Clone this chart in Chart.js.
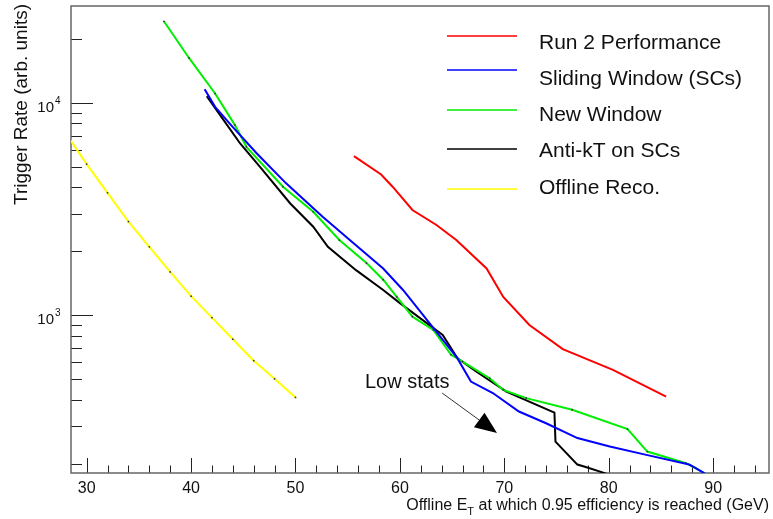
<!DOCTYPE html>
<html>
<head>
<meta charset="utf-8">
<script src="https://cdn.jsdelivr.net/npm/chart.js@4.4.1/dist/chart.umd.min.js"></script>
<style>
  html, body { margin: 0; padding: 0; background: #fff; }
  #wrap { width: 773px; height: 519px; }
</style>
</head>
<body>
<div id="wrap"><canvas id="c" width="773" height="519"></canvas></div>
<script>
// Offline ET (GeV) at which 95% efficiency is reached, and trigger rate (arb. units)
const run2Et   = [55.6, 58.2, 59.3, 61.2, 63.5, 65.4, 68.3, 69.9, 72.4, 75.6, 80.4, 85.5];
const run2Rate = [5610, 4600, 4030, 3130, 2660, 2260, 1660, 1220, 900, 692, 553, 414];

const slidingEt   = [41.3, 42.3, 44.0, 46.3, 49.1, 52.6, 55.2, 58.4, 60.3, 65.5, 66.8, 68.9, 71.4, 74.0, 77.0, 80.1, 83.6, 87.7, 88.3, 89.5];
const slidingRate = [11590, 9580, 7690, 5780, 4180, 2910, 2260, 1660, 1315, 628, 487, 430, 352, 310, 264, 241, 220, 198, 191, 176];

const newWinEt   = [37.4, 39.8, 42.3, 44.2, 45.3, 48.8, 51.7, 54.2, 56.8, 58.4, 59.7, 61.2, 63.2, 64.9, 66.0, 68.6, 69.9, 72.1, 76.5, 81.8, 83.7, 87.4, 89.6];
const newWinRate = [24230, 16280, 11070, 7860, 6210, 4030, 3070, 2260, 1760, 1470, 1220, 985, 853, 651, 605, 505, 445, 407, 359, 291, 228, 201, 176];

const antiKtEt   = [41.5, 42.9, 44.7, 46.6, 49.5, 51.7, 53.1, 55.8, 58.4, 60.0, 64.1, 65.5, 67.3, 70.2, 74.8, 74.9, 77.0, 77.8, 79.4, 80.2];
const antiKtRate = [10750, 8590, 6440, 5000, 3360, 2610, 2100, 1630, 1315, 1140, 808, 628, 543, 437, 348, 254, 198, 193, 182, 176];

const offlineEt   = [28, 30, 32, 34, 36, 38, 40, 42, 44, 46, 48, 50];
const offlineRate = [7190, 5150, 3770, 2760, 2100, 1600, 1230, 974, 771, 611, 502, 410];

const seriesNames = ['Run 2 Performance', 'Sliding Window (SCs)', 'New Window', 'Anti-kT on SCs', 'Offline Reco.'];
const seriesColors = ['#ff0000', '#0000ff', '#00ee00', '#000000', '#ffff00'];

const xTickValues = [30, 40, 50, 60, 70, 80, 90];
const yTickExponents = [3, 4];

// "Low stats" annotation: arrow from (64.05, 430) to (69.3, 279)
const noteText = 'Low stats';
const noteArrowFrom = [64.05, 430];
const noteArrowTo = [69.3, 279];

const FONT = '"Liberation Sans", Arial, Helvetica, sans-serif';

function pts(xs, ys) { return xs.map((v, i) => ({ x: v, y: ys[i] })); }

const allSeries = [
  pts(run2Et, run2Rate),
  pts(slidingEt, slidingRate),
  pts(newWinEt, newWinRate),
  pts(antiKtEt, antiKtRate),
  pts(offlineEt, offlineRate)
];

const datasets = allSeries.map((data, i) => ({
  label: seriesNames[i],
  data,
  borderColor: seriesColors[i],
  backgroundColor: seriesColors[i],
  borderWidth: 2,
  pointRadius: (i === 4 || i === 2) ? 0.9 : 0,
  pointBackgroundColor: '#333',
  pointBorderWidth: 0,
  tension: 0,
  fill: false
}));

const rootAxes = {
  id: 'rootAxes',
  beforeDatasetsDraw(chart) {
    const { ctx, chartArea: a, scales: { x, y } } = chart;
    ctx.save();
    // x ticks (major every 10, minor every 2), drawn inside the frame
    ctx.strokeStyle = '#222';
    ctx.lineWidth = 1;
    ctx.beginPath();
    for (let v = Math.ceil(x.min / 2) * 2; v <= x.max; v += 2) {
      const px = Math.round(x.getPixelForValue(v)) + 0.5;
      const len = v % 10 === 0 ? 15 : 7.5;
      ctx.moveTo(px, a.bottom);
      ctx.lineTo(px, a.bottom - len);
    }
    // y ticks (decades long, 2..9 short)
    for (let e = 2; e <= 4; e++) {
      for (let m = 1; m <= 9; m++) {
        const v = m * Math.pow(10, e);
        if (v < y.min || v > y.max) continue;
        const py = Math.round(y.getPixelForValue(v)) + 0.5;
        const len = m === 1 ? 22 : 11;
        ctx.moveTo(a.left, py);
        ctx.lineTo(a.left + len, py);
      }
    }
    ctx.stroke();

    // frame
    ctx.strokeStyle = '#666';
    ctx.lineWidth = 1.5;
    ctx.strokeRect(a.left, a.top, a.right - a.left, a.bottom - a.top);

    // x tick labels
    ctx.fillStyle = '#111';
    ctx.font = '16px ' + FONT;
    ctx.textAlign = 'center';
    ctx.textBaseline = 'alphabetic';
    xTickValues.forEach(v => {
      ctx.fillText(String(v), x.getPixelForValue(v), 493);
    });

    // y tick labels 10^n
    yTickExponents.forEach(e => {
      const py = y.getPixelForValue(Math.pow(10, e));
      ctx.font = '15px ' + FONT;
      ctx.textAlign = 'right';
      ctx.textBaseline = 'alphabetic';
      ctx.fillText('10', 54, py + 9);
      ctx.font = '10px ' + FONT;
      ctx.textAlign = 'left';
      ctx.fillText(String(e), 55, py + 1);
    });

    // x axis title with subscript T, right aligned to the frame
    const parts = [['Offline E', 16, 0], ['T', 11, 5], [' at which 0.95 efficiency is reached (GeV)', 16, 0]];
    let total = 0;
    parts.forEach(p => { ctx.font = p[1] + 'px ' + FONT; total += ctx.measureText(p[0]).width; });
    let cx = a.right - total;
    ctx.textAlign = 'left';
    parts.forEach(p => {
      ctx.font = p[1] + 'px ' + FONT;
      ctx.fillText(p[0], cx, 510 + p[2]);
      cx += ctx.measureText(p[0]).width;
    });

    // y axis title
    ctx.save();
    ctx.translate(22, 4);
    ctx.rotate(-Math.PI / 2);
    ctx.font = '19px ' + FONT;
    ctx.textAlign = 'right';
    ctx.textBaseline = 'middle';
    ctx.fillText('Trigger Rate (arb. units)', 0, 0);
    ctx.restore();
    ctx.restore();
  },
  afterDatasetsDraw(chart) {
    const { ctx, scales: { x, y } } = chart;
    ctx.save();
    // legend
    const lineY = [36, 70, 110, 149, 189];
    seriesNames.forEach((name, i) => {
      const ty = 43 + i * 36.2;
      ctx.strokeStyle = seriesColors[i];
      ctx.lineWidth = 1.5;
      ctx.beginPath();
      ctx.moveTo(447, lineY[i]);
      ctx.lineTo(517, lineY[i]);
      ctx.stroke();
      ctx.fillStyle = '#111';
      ctx.font = '21px ' + FONT;
      ctx.textAlign = 'left';
      ctx.textBaseline = 'middle';
      ctx.fillText(name, 539, ty);
    });

    // annotation
    const x0 = x.getPixelForValue(noteArrowFrom[0]), y0 = y.getPixelForValue(noteArrowFrom[1]);
    const x1 = x.getPixelForValue(noteArrowTo[0]), y1 = y.getPixelForValue(noteArrowTo[1]);
    const ang = Math.atan2(y1 - y0, x1 - x0);
    const hl = 22, hw = 9;
    const bx = x1 - hl * Math.cos(ang), by = y1 - hl * Math.sin(ang);
    ctx.strokeStyle = '#333';
    ctx.lineWidth = 1;
    ctx.beginPath();
    ctx.moveTo(x0, y0);
    ctx.lineTo(bx, by);
    ctx.stroke();
    ctx.fillStyle = '#000';
    ctx.beginPath();
    ctx.moveTo(x1, y1);
    ctx.lineTo(bx + hw * Math.sin(ang), by - hw * Math.cos(ang));
    ctx.lineTo(bx - hw * Math.sin(ang), by + hw * Math.cos(ang));
    ctx.closePath();
    ctx.fill();

    ctx.fillStyle = '#111';
    ctx.font = '20px ' + FONT;
    ctx.textAlign = 'left';
    ctx.textBaseline = 'middle';
    ctx.fillText(noteText, 365, 382);
    ctx.restore();
  }
};

new Chart(document.getElementById('c'), {
  type: 'line',
  data: { datasets },
  options: {
    responsive: false,
    animation: false,
    devicePixelRatio: 1,
    layout: { padding: { left: 71, top: 6, right: 3, bottom: 46 } },
    plugins: { legend: { display: false }, tooltip: { enabled: false } },
    scales: {
      x: { type: 'linear', min: 28.5, max: 95.35, bounds: 'data', display: false },
      y: { type: 'logarithmic', min: 180.7, max: 28600, bounds: 'data', display: false }
    }
  },
  plugins: [rootAxes]
});
</script>
</body>
</html>
